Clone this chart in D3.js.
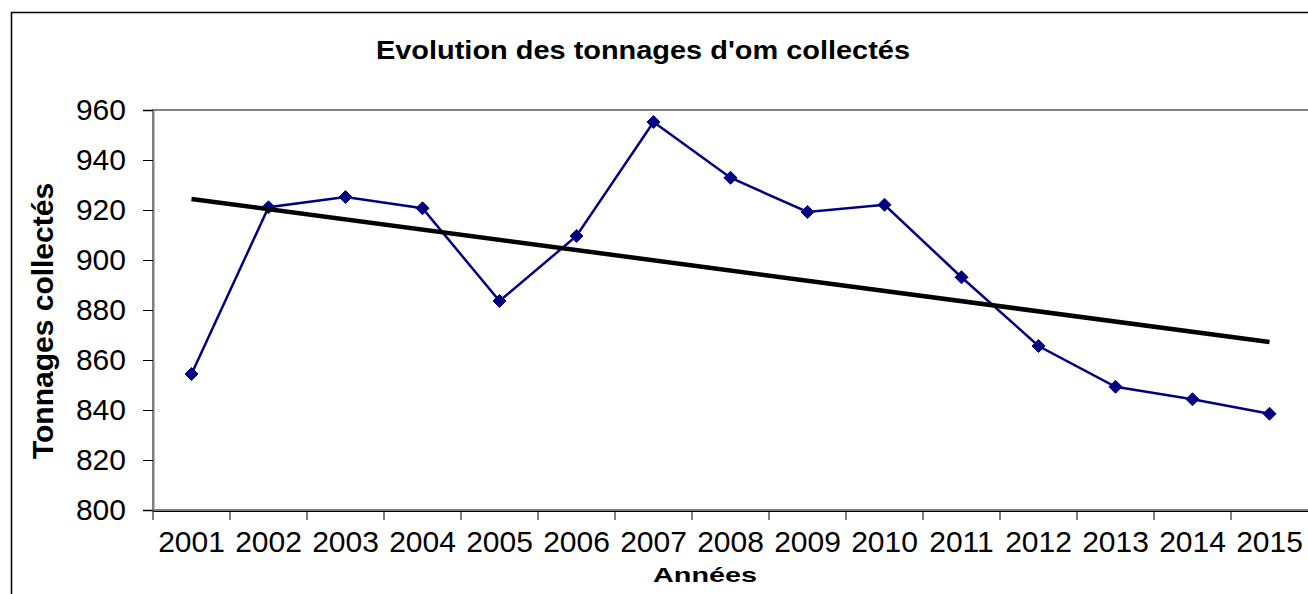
<!DOCTYPE html>
<html>
<head>
<meta charset="utf-8">
<script src="https://cdn.jsdelivr.net/npm/d3@7"></script>
<style>
  html, body { margin: 0; padding: 0; background: #fff; }
  svg { display: block; font-family: "Liberation Sans", Arial, sans-serif; }
</style>
</head>
<body>
<div id="chart"></div>
<script>
// data
var years = ["2001", "2002", "2003", "2004", "2005", "2006", "2007", "2008",
             "2009", "2010", "2011", "2012", "2013", "2014", "2015"];
var tonnages = [854.4, 921.1, 925.2, 920.7, 883.6, 909.6, 955.2, 932.9,
                919.2, 922.1, 893.1, 865.6, 849.3, 844.3, 838.5];
// linear trend, as drawn: value at first and last year
var trendYears = ["2001", "2015"];
var trendValues = [924.4, 867.2];
var yTicks = [800, 820, 840, 860, 880, 900, 920, 940, 960];

var W = 1308, H = 594;
var plot = {l: 153, t: 110, r: 1308, b: 510};

var svg = d3.select("#chart").append("svg")
    .attr("width", W).attr("height", H);

// outer chart border (right / bottom fall outside the picture)
svg.append("rect")
    .attr("x", 11.5).attr("y", 12.5)
    .attr("width", W + 10).attr("height", H + 10)
    .attr("fill", "#fff").attr("stroke", "#000").attr("stroke-width", 1.5);

var x = d3.scaleBand().domain(years).range([plot.l, plot.r]).padding(0);
var y = d3.scaleLinear().domain([800, 960]).range([plot.b, plot.t]);

// plot area frame
svg.append("rect")
    .attr("x", plot.l).attr("y", plot.t)
    .attr("width", plot.r - plot.l + 10).attr("height", plot.b - plot.t)
    .attr("fill", "#fff").attr("stroke", "#808080").attr("stroke-width", 2);

// y axis
var yAxis = svg.append("g")
    .attr("transform", "translate(" + plot.l + ",0)")
    .call(d3.axisLeft(y).tickValues(yTicks).tickSize(10).tickPadding(17));
yAxis.select(".domain").attr("stroke", "#808080").attr("stroke-width", 2);
yAxis.selectAll(".tick line").attr("stroke", "#000");
yAxis.selectAll(".tick text")
    .attr("font-size", 30).attr("fill", "#000")
    .attr("font-family", "Liberation Sans, Arial, sans-serif");

// x axis: ticks on the category boundaries
var xAxis = svg.append("g")
    .attr("transform", "translate(0," + (plot.b + 1) + ")")
    .call(d3.axisBottom(x).tickSize(0).tickPadding(20));
xAxis.select(".domain").attr("stroke", "#000").attr("stroke-width", 1);
xAxis.selectAll(".tick text")
    .attr("font-size", 30).attr("fill", "#000")
    .attr("font-family", "Liberation Sans, Arial, sans-serif");
xAxis.selectAll(".bound").data(years).enter().append("line")
    .attr("class", "bound")
    .attr("x1", function (d) { return x(d); })
    .attr("x2", function (d) { return x(d); })
    .attr("y1", 0).attr("y2", 9)
    .attr("stroke", "#000").attr("stroke-width", 1);

var cx = function (d) { return x(d) + x.bandwidth() / 2; };

// series line
var line = d3.line()
    .x(function (d, i) { return cx(years[i]); })
    .y(function (d) { return y(d); });
svg.append("path")
    .datum(tonnages)
    .attr("d", line)
    .attr("fill", "none")
    .attr("stroke", "#000080").attr("stroke-width", 2.5);

// markers
svg.selectAll(".pt").data(tonnages).enter().append("path")
    .attr("class", "pt")
    .attr("d", "M0,-6.5L6.5,0L0,6.5L-6.5,0Z")
    .attr("transform", function (d, i) {
        return "translate(" + cx(years[i]) + "," + y(d) + ")";
    })
    .attr("fill", "#000080").attr("stroke", "#000080").attr("stroke-width", 1);

// trend line
var trendLine = d3.line()
    .x(function (d, i) { return cx(trendYears[i]); })
    .y(function (d) { return y(d); });
svg.append("path")
    .datum(trendValues)
    .attr("d", trendLine)
    .attr("fill", "none")
    .attr("stroke", "#000").attr("stroke-width", 4.5);

// titles
svg.append("text")
    .attr("x", 376).attr("y", 59)
    .attr("font-size", 26).attr("font-weight", "bold")
    .attr("textLength", 534).attr("lengthAdjust", "spacingAndGlyphs")
    .text("Evolution des tonnages d'om collectés");

svg.append("text")
    .attr("transform", "translate(53,321) rotate(-90)")
    .attr("text-anchor", "middle")
    .attr("font-size", 30).attr("font-weight", "bold")
    .text("Tonnages collectés");

svg.append("text")
    .attr("x", 653).attr("y", 582)
    .attr("font-size", 21).attr("font-weight", "bold")
    .attr("textLength", 104).attr("lengthAdjust", "spacingAndGlyphs")
    .text("Années");
</script>
</body>
</html>
